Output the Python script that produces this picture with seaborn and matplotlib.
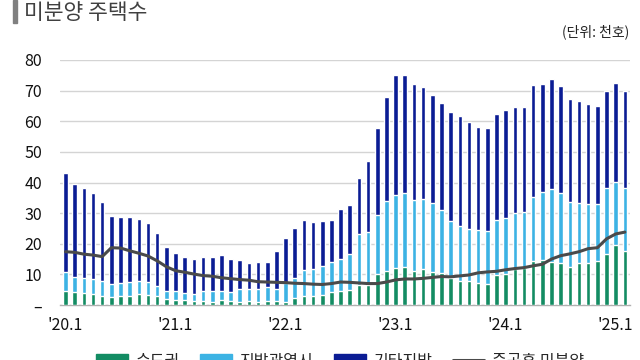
import numpy as np
import matplotlib
matplotlib.use("Agg")
import matplotlib.pyplot as plt
from matplotlib.patches import Patch, Rectangle
from matplotlib.lines import Line2D
import seaborn as sns

# ---- data (thousand units), monthly 2020.1 - 2025.2 ----
months = [f"{y}.{m}" for y in range(2020, 2026) for m in range(1, 13)][:62]

capital = [4.7, 4.1, 3.8, 3.6, 2.9, 2.7, 3.0, 3.0, 3.6, 3.4, 3.0, 2.1,
           1.7, 1.5, 1.3, 1.3, 1.1, 1.6, 1.3, 1.1, 1.3, 1.1, 1.3, 1.4,
           1.1, 2.3, 2.8, 2.8, 3.4, 4.4, 4.7, 4.9, 6.5, 6.5, 10.1, 11.0,
           12.1, 12.4, 11.0, 11.7, 10.8, 10.4, 8.7, 7.7, 7.7, 7.3, 6.9, 9.9,
           10.2, 11.7, 12.0, 14.4, 14.7, 14.2, 13.8, 12.5, 13.8, 13.8, 14.4, 16.8,
           19.6, 17.5]
metro = [6.0, 4.9, 5.0, 4.8, 4.9, 4.0, 4.1, 4.5, 4.2, 4.1, 3.3, 2.4,
         2.9, 2.3, 2.4, 3.3, 3.6, 3.1, 3.1, 4.1, 3.9, 4.1, 4.5, 3.8,
         6.0, 6.5, 8.5, 8.8, 9.3, 9.5, 10.3, 11.7, 16.7, 17.3, 19.4, 23.1,
         23.8, 24.2, 23.3, 22.8, 22.4, 20.6, 18.7, 18.0, 17.1, 17.2, 17.4, 17.9,
         18.3, 18.3, 18.3, 20.8, 22.3, 23.6, 22.7, 21.1, 19.4, 19.3, 18.7, 21.4,
         20.6, 20.7]
other = [32.3, 30.4, 29.3, 28.1, 25.9, 22.5, 21.7, 21.1, 20.4, 19.2, 17.2, 14.3,
         12.3, 11.8, 11.4, 11.2, 10.9, 11.5, 10.7, 9.6, 8.6, 8.7, 8.1, 12.5,
         14.7, 16.3, 16.6, 15.5, 14.6, 13.8, 16.2, 16.0, 18.4, 23.3, 28.4, 33.9,
         39.2, 38.5, 37.8, 36.6, 35.5, 35.1, 35.5, 35.9, 34.9, 33.6, 33.4, 34.6,
         35.1, 34.7, 34.5, 36.6, 35.1, 36.0, 35.1, 33.7, 33.3, 32.6, 31.9, 31.8,
         32.2, 31.7]
completed = [17.4, 17.2, 16.6, 16.3, 15.8, 18.7, 18.6, 17.7, 16.9, 16.0, 14.4, 12.5,
             11.2, 10.7, 10.1, 9.6, 9.4, 8.9, 8.6, 8.3, 8.1, 7.6, 7.5, 7.4,
             7.3, 7.1, 7.0, 6.8, 6.7, 7.0, 7.5, 7.4, 7.2, 7.0, 7.0, 7.5,
             8.2, 8.5, 8.5, 8.7, 9.0, 9.3, 9.2, 9.5, 9.8, 10.5, 10.8, 11.0,
             11.5, 11.9, 12.2, 12.8, 13.3, 15.0, 16.1, 16.7, 17.4, 18.4, 18.7, 21.6,
             23.2, 23.8]

series_names = ["수도권", "지방광역시", "기타지방", "준공후 미분양"]
xtick_labels = ["'20.1", "'21.1", "'22.1", "'23.1", "'24.1", "'25.1"]
xtick_months = ["2020.1", "2021.1", "2022.1", "2023.1", "2024.1", "2025.1"]
ytick_values = [0, 10, 20, 30, 40, 50, 60, 70, 80]
ytick_labels = ["–", "10", "20", "30", "40", "50", "60", "70", "80"]

c_green = "#138c63"
c_light = "#3cb3e4"
c_dark = "#0b1c94"
c_line = "#4a4a4a"

sns.set_style("white")
plt.rcParams["font.family"] = ["Noto Sans CJK KR", "DejaVu Sans"]

fig = plt.figure(figsize=(6.4, 3.6), dpi=100)
ax = fig.add_axes([60 / 640, 55 / 360, 570 / 640, 245 / 360])

cap = np.array(capital)
lvl2 = cap + np.array(metro)
lvl3 = lvl2 + np.array(other)

for heights, col in [(lvl3, c_dark), (lvl2, c_light), (cap, c_green)]:
    sns.barplot(x=months, y=heights, color=col, saturation=1, width=0.5,
                errorbar=None, ax=ax, zorder=3)

idx = np.arange(len(months))
sns.lineplot(x=idx, y=completed, color=c_line, linewidth=2.2, ax=ax,
             legend=False, zorder=4)

ax.set_ylim(0, 80)
ax.set_xlim(-0.6, len(months) - 0.44)
ax.set_yticks(ytick_values)
ax.set_yticklabels(ytick_labels)
ax.set_xticks([months.index(m) for m in xtick_months])
ax.set_xticklabels(xtick_labels)
ax.set_xticks(np.arange(-0.5, len(months), 1), minor=True)
ax.tick_params(axis="y", length=0, pad=13, labelsize=11.5, labelcolor="#111111")
ax.tick_params(axis="x", which="major", length=0, pad=9, labelsize=11.5,
               labelcolor="#111111")
ax.tick_params(axis="x", which="minor", length=5, width=0.8, color="#aaaaaa")
ax.set_xlabel("")
ax.set_ylabel("")
ax.yaxis.grid(True, color="#d4d4d4", linewidth=1)
ax.xaxis.grid(False)
ax.set_axisbelow(True)
for s in ["left", "right", "top"]:
    ax.spines[s].set_visible(False)
ax.spines["bottom"].set_color("#b0b0b0")
ax.spines["bottom"].set_linewidth(1)

# title block
fig.patches.append(Rectangle((13 / 640, 1 - 23 / 360), 4 / 640, 23 / 360,
                             transform=fig.transFigure, color="#808080"))
fig.text(24 / 640, 1 - 19 / 360, "미분양 주택수", fontsize=15.5, color="#404040",
         ha="left", va="baseline")
fig.text(629 / 640, 1 - 32 / 360, "(단위: 천호)", fontsize=10, color="#222222",
         ha="right", va="center")

handles = [Patch(color=c_green), Patch(color=c_light), Patch(color=c_dark),
           Line2D([0], [0], color=c_line, linewidth=2.2)]
fig.legend(handles, series_names, loc="center", bbox_to_anchor=(0.531, -0.003),
           ncol=4, frameon=False, fontsize=11.5, handlelength=2.0,
           handleheight=0.7, handletextpad=0.45, columnspacing=1.3, borderpad=0)

fig.savefig("out.png", dpi=100)
